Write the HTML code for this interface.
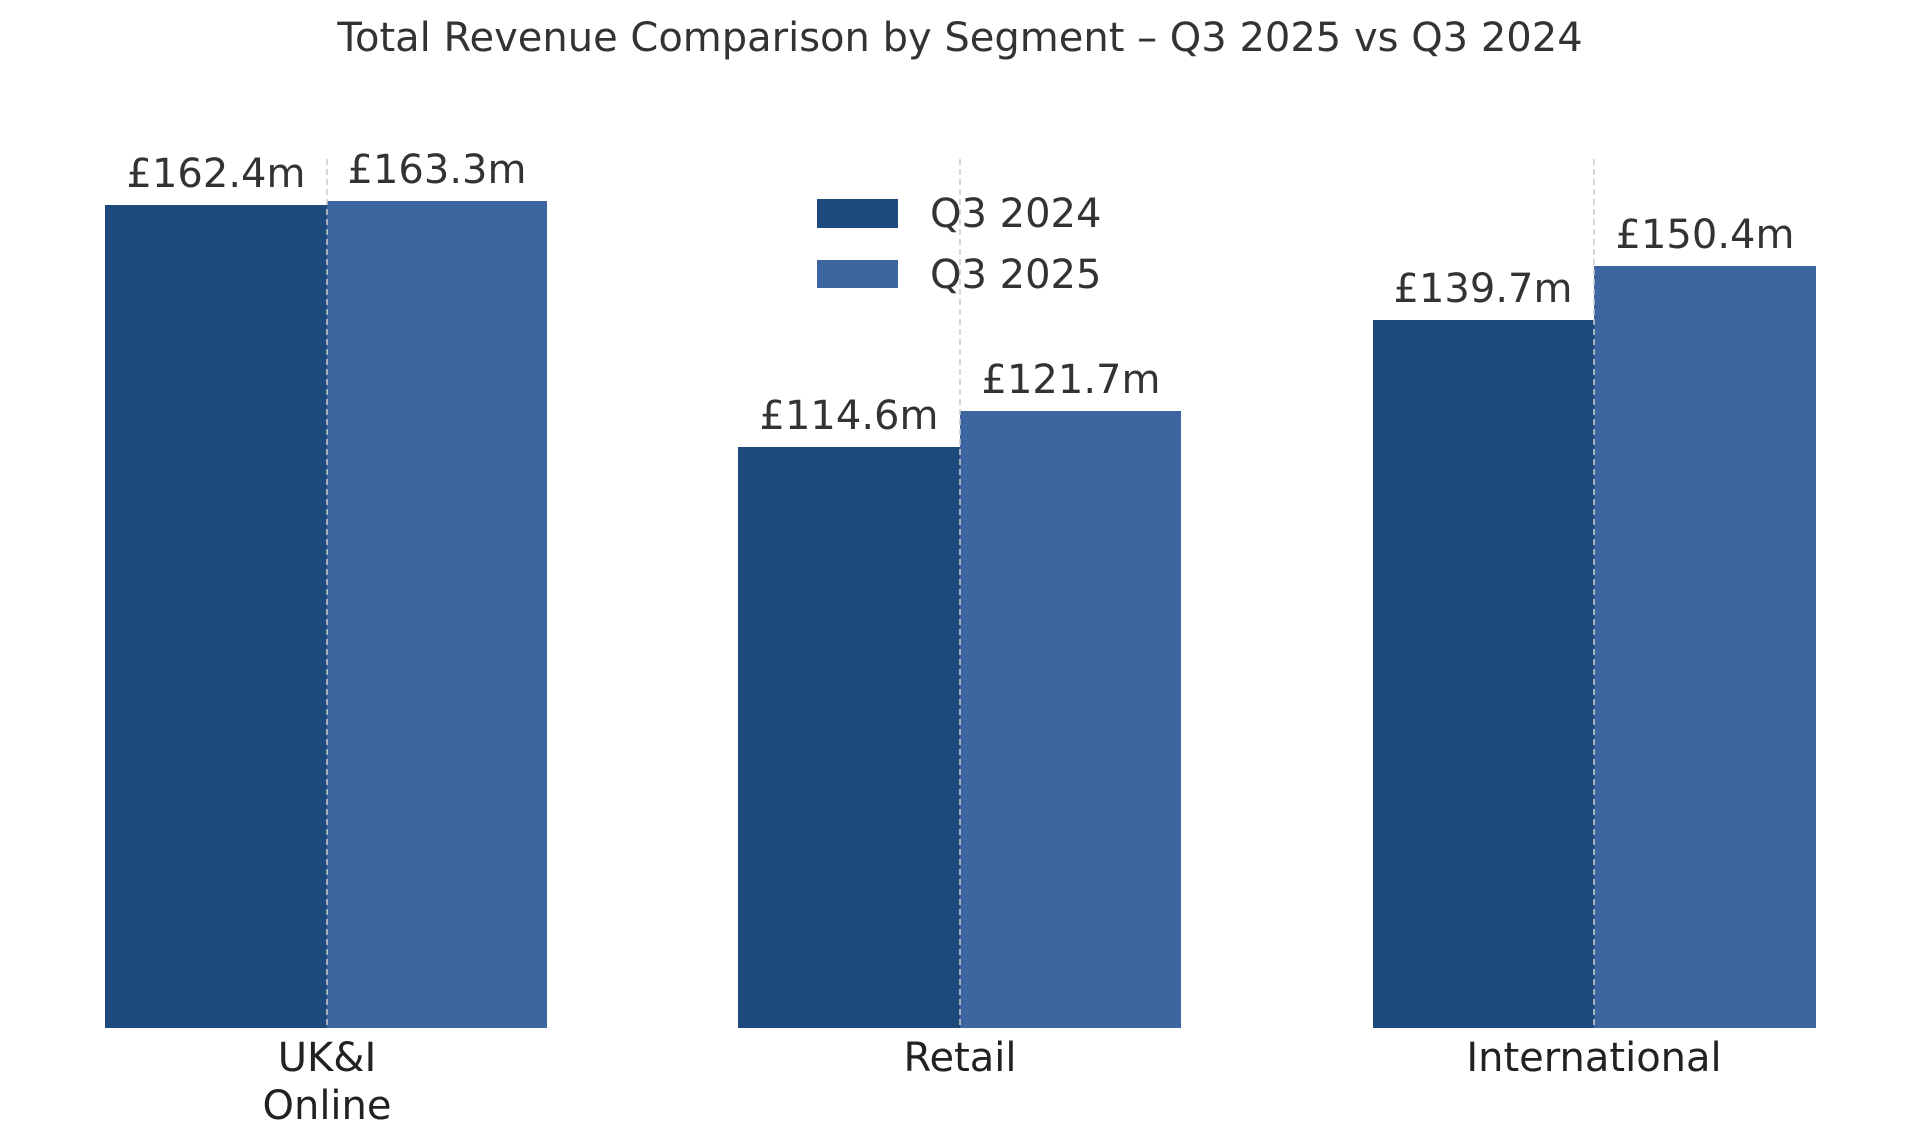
<!DOCTYPE html>
<html><head><meta charset="utf-8"><style>
html,body{margin:0;padding:0;background:#fff;}
svg{display:block;font-family:"DejaVu Sans","Liberation Sans",sans-serif;}
</style></head><body>
<svg width="1920" height="1145" viewBox="0 0 1920 1145" xmlns="http://www.w3.org/2000/svg">
<text x="960" y="51" text-anchor="middle" font-size="40" fill="#333">Total Revenue Comparison by Segment – Q3 2025 vs Q3 2024</text>
<g fill="#1d4a7c">
<rect x="105" y="205" width="222" height="823"/>
<rect x="738" y="447" width="222" height="581"/>
<rect x="1373" y="320" width="221" height="708"/>
</g>
<g fill="#3d65a0">
<rect x="327" y="201" width="220" height="827"/>
<rect x="960" y="411" width="221" height="617"/>
<rect x="1594" y="266" width="222" height="762"/>
</g>
<g stroke="#ccc" stroke-width="1.5" stroke-dasharray="6,4">
<line x1="327" y1="159" x2="327" y2="1028"/>
<line x1="960" y1="159" x2="960" y2="1028"/>
<line x1="1594" y1="159" x2="1594" y2="1028"/>
</g>
<g font-size="40" fill="#333" text-anchor="middle">
<text x="216" y="187">£162.4m</text>
<text x="437" y="183">£163.3m</text>
<text x="849" y="429">£114.6m</text>
<text x="1071" y="393">£121.7m</text>
<text x="1483" y="302">£139.7m</text>
<text x="1705" y="248">£150.4m</text>
</g>
<rect x="817" y="199" width="81" height="29" fill="#1d4a7c"/>
<rect x="817" y="260" width="81" height="28" fill="#3d65a0"/>
<g font-size="40" fill="#333">
<text x="930" y="227">Q3 2024</text>
<text x="930" y="288">Q3 2025</text>
</g>
<g font-size="40" fill="#222" text-anchor="middle">
<text x="327" y="1071">UK&amp;I</text>
<text x="327" y="1119">Online</text>
<text x="960" y="1071">Retail</text>
<text x="1594" y="1071">International</text>
</g>
</svg>
</body></html>
